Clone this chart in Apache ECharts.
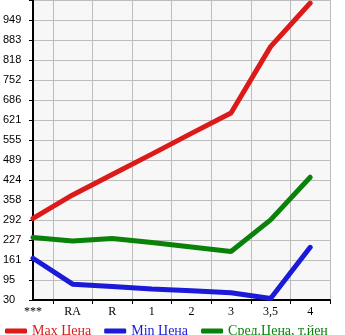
<!DOCTYPE html>
<html>
<head>
<meta charset="utf-8">
<script src="https://cdn.jsdelivr.net/npm/echarts@6/dist/echarts.min.js"></script>
<style>html,body{margin:0;padding:0;background:#fff}#c{width:345px;height:335px}</style>
</head>
<body>
<div id="c"></div>
<script>
var categories = ['***', 'RA', 'R', '1', '2', '3', '3,5', '4'];
var maxPrice = [298, 375, 442, 509, 577, 644, 862, 1005];
var minPrice = [167, 82, 74, 66, 60, 54, 35, 203];
var avgPrice = [235, 224, 232, 219, 204, 189, 293, 433];
var seriesNames = ['Max Цена', 'Min Цена', 'Сред.Цена, т.йен'];
var yMin = 30, yMax = 1015, ySteps = 15;

function pts(arr) { return arr.map(function (v, i) { return [i, v]; }); }
var colors = ['#dd1a1a', '#1a1ad8', '#0a820a'];
var halfTicks = categories.map(function (c, i) { return i + 0.5; });
var labelTicks = categories.map(function (c, i) { return i; });

var chart = echarts.init(document.getElementById('c'));
chart.setOption({
  animation: false,
  grid: { left: 30, right: 15, top: 0, bottom: 35, show: true, backgroundColor: '#f7f7f7', borderWidth: 0, containLabel: false },
  legend: {
    left: 0, top: 319, itemWidth: 22, itemHeight: 5, itemGap: 13, icon: 'roundRect',
    data: seriesNames.map(function (n, i) { return { name: n, textStyle: { color: colors[i] } }; }),
    textStyle: { fontFamily: 'Liberation Serif', fontSize: 14 }
  },
  xAxis: {
    type: 'value', min: 0, max: categories.length - 0.5, interval: 0.5,
    axisLine: { show: true, onZero: false, lineStyle: { color: '#000', width: 2 } },
    axisTick: { show: true, customValues: halfTicks, length: 4, lineStyle: { color: '#000' } },
    axisLabel: { customValues: labelTicks, formatter: function (v) { return categories[Math.round(v)]; }, color: '#000', fontFamily: 'Liberation Serif', fontSize: 12, margin: 6 },
    splitLine: { show: true, lineStyle: { color: '#bdbdbd', width: 1 } }
  },
  yAxis: {
    type: 'value', min: yMin, max: yMax, interval: (yMax - yMin) / ySteps,
    axisLine: { show: true, lineStyle: { color: '#000', width: 2 } },
    axisTick: { show: true, length: 4, lineStyle: { color: '#000' } },
    axisLabel: { formatter: function (v) { return v >= yMax - 1 ? '' : String(Math.floor(v + 1e-6)); }, align: 'left', margin: 30, color: '#000', fontFamily: 'Liberation Sans', fontSize: 11, verticalAlign: 'middle', padding: [0, 0, 10, 0] },
    splitLine: { show: true, lineStyle: { color: '#bdbdbd', width: 1 } }
  },
  series: [maxPrice, minPrice, avgPrice].map(function (arr, i) {
    return { name: seriesNames[i], type: 'line', data: pts(arr), showSymbol: false, symbol: 'none', lineStyle: { width: 5, color: colors[i], cap: 'round' }, itemStyle: { color: colors[i] } };
  })
});
</script>
</body>
</html>
